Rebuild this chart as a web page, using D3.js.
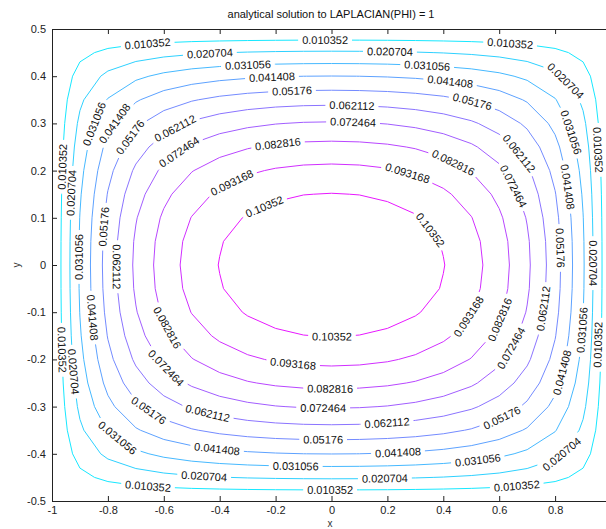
<!DOCTYPE html>
<html>
<head>
<meta charset="utf-8">
<script src="https://cdn.jsdelivr.net/npm/d3@7"></script>
<style>
  body { margin: 0; background: #fff; }
  svg { display: block; }
  text { font-family: "Liberation Sans", Arial, Helvetica, sans-serif; }
</style>
</head>
<body>
<svg id="chart" width="606" height="529"></svg>
<script>
// ---- chart content ----
const titleText = "analytical solution to LAPLACIAN(PHI) = 1";
const xLabel = "x";
const yLabel = "y";
const xTicks = [-1, -0.8, -0.6, -0.4, -0.2, 0, 0.2, 0.4, 0.6, 0.8, 1];
const xTickLabels = ["-1", "-0.8", "-0.6", "-0.4", "-0.2", "0", "0.2", "0.4", "0.6", "0.8", ""];
const yTicks = [-0.5, -0.4, -0.3, -0.2, -0.1, 0, 0.1, 0.2, 0.3, 0.4, 0.5];
const yTickLabels = ["-0.5", "-0.4", "-0.3", "-0.2", "-0.1", "0", "0.1", "0.2", "0.3", "0.4", "0.5"];
const levels = [0.010352, 0.020704, 0.031056, 0.041408, 0.05176,
                0.062112, 0.072464, 0.082816, 0.093168, 0.10352];
const levelText = ["0.010352", "0.020704", "0.031056", "0.041408", "0.05176",
                   "0.062112", "0.072464", "0.082816", "0.093168", "0.10352"];
// sampling mesh of the solution
const gridX = d3.range(21).map(i => -1 + i * 0.1);
const gridY = d3.range(21).map(j => 0.5 - j * 0.05);

// approximate places (x, y) where each level's inline labels sit
const labelSpots = [
  [[-0.657, 0.462], [-0.023, 0.481], [0.639, 0.468], [0.964, 0.244], [0.961, -0.169],
   [0.664, -0.477], [-0.005, -0.481], [-0.657, -0.472], [-0.979, -0.180], [-0.961, 0.208]],
  [[-0.435, 0.447], [0.209, 0.449], [0.828, 0.386], [0.950, 0.004], [0.818, -0.396],
   [0.191, -0.451], [-0.456, -0.451], [-0.943, -0.227], [-0.936, 0.153]],
  [[-0.839, 0.297], [-0.299, 0.424], [0.342, 0.419], [0.850, 0.280], [0.900, -0.138],
   [0.524, -0.415], [-0.128, -0.426], [-0.767, -0.367], [-0.900, 0.017]],
  [[-0.785, 0.303], [-0.213, 0.398], [0.424, 0.386], [0.839, 0.165], [0.818, -0.227],
   [0.238, -0.398], [-0.410, -0.392], [-0.864, -0.112]],
  [[-0.721, 0.271], [-0.141, 0.364], [0.503, 0.345], [0.807, 0.036], [0.610, -0.324],
   [-0.030, -0.373], [-0.660, -0.314], [-0.810, 0.081]],
  [[-0.553, 0.282], [0.073, 0.335], [0.664, 0.233], [0.739, -0.091], [0.199, -0.337],
   [-0.445, -0.318], [-0.785, -0.004]],
  [[-0.542, 0.237], [0.077, 0.297], [0.639, 0.163], [0.621, -0.169], [-0.030, -0.307],
   [-0.603, -0.227]],
  [[-0.191, 0.252], [0.435, 0.216], [0.585, -0.112], [-0.005, -0.265], [-0.589, -0.133]],
  [[-0.352, 0.169], [0.270, 0.191], [0.485, -0.106], [-0.138, -0.212]],
  [[-0.238, 0.121], [0.345, 0.070], [0.002, -0.155]]
];

// ---- the field: solution of the Poisson problem on |x|<=1, |y|<=0.5, phi = 0 on the edge ----
function phi(px, py) {
  const a = 1, b = 0.5;
  let s = 0;
  for (let n = 1; n <= 151; n += 2) {
    const k = n * Math.PI / (2 * b);
    const sign = ((n - 1) / 2) % 2 === 0 ? 1 : -1;
    const ax = Math.abs(px);
    const ratio = (Math.exp(k * (ax - a)) + Math.exp(-k * (ax + a))) / (1 + Math.exp(-2 * k * a));
    s += sign / (n * n * n) * Math.cos(k * py) * ratio;
  }
  return (b * b - py * py) / 2 - 16 * b * b / Math.pow(Math.PI, 3) * s;
}

const nx = gridX.length, ny = gridY.length;
const field = new Array(nx * ny);
for (let j = 0; j < ny; j++)
  for (let i = 0; i < nx; i++)
    field[j * nx + i] = Math.max(0, phi(gridX[i], gridY[j]));

// ---- layout ----
const svg = d3.select("#chart");
const x = d3.scaleLinear().domain([-1, 1]).range([52, 611]);
const y = d3.scaleLinear().domain([-0.5, 0.5]).range([501, 29]);
const color = t => d3.rgb(Math.round(255 * t), Math.round(255 * (1 - t)), 255).toString();
const zMax = d3.max(field);

// grid index space -> data space -> pixels
const dxg = gridX[1] - gridX[0], dyg = gridY[1] - gridY[0];
const toPx = ([gx, gy]) => [x(gridX[0] + (gx - 0.5) * dxg), y(gridY[0] + (gy - 0.5) * dyg)];

const contourSets = d3.contours().size([nx, ny]).thresholds(levels)(field);

const lineLayer = svg.append("g");
const labelLayer = svg.append("g");

contourSets.forEach((cs, li) => {
  const col = color(levels[li] / zMax);
  cs.coordinates.forEach(poly => poly.forEach(ring => {
    const pts = ring.map(toPx);
    if (pts.length < 2) return;
    const cum = [0];
    for (let i = 1; i < pts.length; i++)
      cum.push(cum[i - 1] + Math.hypot(pts[i][0] - pts[i - 1][0], pts[i][1] - pts[i - 1][1]));
    const total = cum[cum.length - 1];
    const nSeg = pts.length - 1;

    const pointAt = s => {
      s = ((s % total) + total) % total;
      let lo = 0, hi = nSeg;
      while (hi - lo > 1) { const m = (lo + hi) >> 1; if (cum[m] <= s) lo = m; else hi = m; }
      const segL = cum[lo + 1] - cum[lo] || 1;
      const t = (s - cum[lo]) / segL;
      return [pts[lo][0] + t * (pts[lo + 1][0] - pts[lo][0]), pts[lo][1] + t * (pts[lo + 1][1] - pts[lo][1])];
    };
    const nearestS = p => {
      let best = Infinity, bs = 0;
      for (let i = 0; i < nSeg; i++) {
        const a = pts[i], b = pts[i + 1];
        const vx = b[0] - a[0], vy = b[1] - a[1];
        const L2 = vx * vx + vy * vy || 1;
        let t = ((p[0] - a[0]) * vx + (p[1] - a[1]) * vy) / L2;
        t = Math.max(0, Math.min(1, t));
        const qx = a[0] + t * vx, qy = a[1] + t * vy;
        const d = Math.hypot(p[0] - qx, p[1] - qy);
        if (d < best) { best = d; bs = cum[i] + t * Math.sqrt(L2); }
      }
      return { s: bs, d: best };
    };

    // place inline labels
    const gaps = [];
    labelSpots[li].forEach(spot => {
      const target = [x(spot[0]), y(spot[1])];
      const hit = nearestS(target);
      if (hit.d > 30) return;
      const t = labelLayer.append("text")
        .attr("font-size", 11)
        .attr("fill", "#111")
        .attr("text-anchor", "middle")
        .attr("dy", "0.35em")
        .text(levelText[li]);
      const w = t.node().getComputedTextLength();
      const p1 = pointAt(hit.s - w / 2), p2 = pointAt(hit.s + w / 2);
      let ang = Math.atan2(p2[1] - p1[1], p2[0] - p1[0]) * 180 / Math.PI;
      if (ang > 90) ang -= 180;
      if (ang <= -90) ang += 180;
      const c = pointAt(hit.s);
      // keep labels on the right edge inside the page
      const cx = Math.min(c[0], 598);
      t.attr("transform", `translate(${cx},${c[1]}) rotate(${ang})`);
      const half = w / 2 + 4;
      let g0 = hit.s - half;
      if (g0 < 0) g0 += total;
      gaps.push([g0, g0 + 2 * half]);
    });

    // draw the visible stretches between the gaps
    const vs = [];
    for (let k = 0; k < 3; k++)
      for (let i = 0; i < nSeg; i++) vs.push({ s: cum[i] + k * total, p: pts[i] });
    const stretch = (a, b) => {
      const out = [pointAt(a)];
      vs.forEach(v => { if (v.s > a && v.s < b) out.push(v.p); });
      out.push(pointAt(b));
      return out;
    };
    const line = d3.line();
    if (!gaps.length) {
      lineLayer.append("path").attr("d", line(pts)).attr("fill", "none")
        .attr("stroke", col).attr("stroke-width", 1);
      return;
    }
    gaps.sort((p, q) => p[0] - q[0]);
    for (let i = 0; i < gaps.length; i++) {
      const a = gaps[i][1];
      let b = i + 1 < gaps.length ? gaps[i + 1][0] : gaps[0][0] + total;
      if (b - a <= 0.5) continue;
      lineLayer.append("path").attr("d", line(stretch(a, b))).attr("fill", "none")
        .attr("stroke", col).attr("stroke-width", 1);
    }
  }));
});

// ---- axes (boxed, ticks pointing inward) ----
const axisColor = "#222";
const styleAxis = g => {
  g.selectAll(".domain").attr("stroke", axisColor);
  g.selectAll(".tick line").attr("stroke", axisColor);
  g.selectAll(".tick text").attr("fill", "#222").attr("font-size", 11)
    .attr("font-family", "'Liberation Sans', Arial, sans-serif");
};
svg.append("g").attr("transform", "translate(0,501)")
  .call(d3.axisBottom(x).tickValues(xTicks).tickFormat((d, i) => xTickLabels[i])
    .tickSizeInner(-5).tickSizeOuter(0).tickPadding(5))
  .call(styleAxis);
svg.append("g").attr("transform", "translate(0,29)")
  .call(d3.axisTop(x).tickValues(xTicks).tickFormat("").tickSizeInner(-5).tickSizeOuter(0))
  .call(styleAxis);
svg.append("g").attr("transform", "translate(52,0)")
  .call(d3.axisLeft(y).tickValues(yTicks).tickFormat((d, i) => yTickLabels[i])
    .tickSizeInner(-5).tickSizeOuter(0).tickPadding(6))
  .call(styleAxis);
svg.append("g").attr("transform", "translate(611,0)")
  .call(d3.axisRight(y).tickValues(yTicks).tickFormat("").tickSizeInner(-5).tickSizeOuter(0))
  .call(styleAxis);

// ---- title and axis names ----
svg.append("text").attr("x", 331).attr("y", 18).attr("text-anchor", "middle")
  .attr("font-size", 11).attr("fill", "#111").text(titleText);
svg.append("text").attr("x", 330).attr("y", 527).attr("text-anchor", "middle")
  .attr("font-size", 10).attr("fill", "#333").text(xLabel);
svg.append("text").attr("transform", "translate(20,265) rotate(-90)").attr("text-anchor", "middle")
  .attr("font-size", 10).attr("fill", "#333").text(yLabel);
</script>
</body>
</html>
